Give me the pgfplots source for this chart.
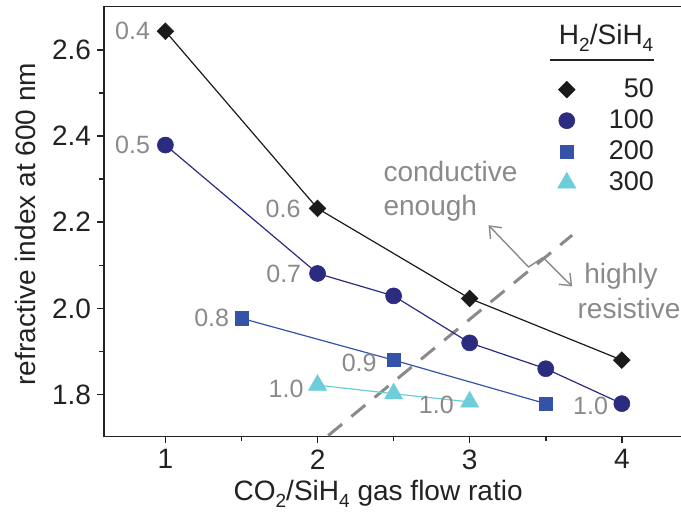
\documentclass[border=0pt]{standalone}
\usepackage{pgfplots}
\pgfplotsset{compat=1.18}
\usepackage{fontspec}
\setmainfont{Liberation Sans}
\usetikzlibrary{arrows.meta,calc}
\definecolor{cblack}{HTML}{1A1A1A}
\definecolor{cnavy}{HTML}{2B2C80}
\definecolor{cblue}{HTML}{3453A8}
\definecolor{ccyan}{HTML}{6DCDD8}
\definecolor{cgray}{HTML}{8A8A8A}
\definecolor{ctext}{HTML}{222222}
\newcommand{\sub}[1]{\raisebox{-0.45ex}{\fontsize{9.5}{10}\selectfont #1}}
\begin{document}
\begin{tikzpicture}
\begin{axis}[
  scale only axis, width=288.65pt, height=214.65pt,
  xmin=0.595, xmax=4.393, ymin=1.703, ymax=2.7,
  axis line style={line width=0.75pt, ctext},
  tick align=outside, xtick pos=bottom, ytick pos=left,
  xtick={1,2,3,4}, ytick={1.8,2.0,2.2,2.4,2.6},
  minor x tick num=1, minor y tick num=1,
  major tick length=3.2pt, minor tick length=2.4pt,
  every tick/.style={line width=0.75pt, ctext},
  /pgf/number format/assume math mode=true,
  ticklabel style={font=\fontsize{14}{16}\selectfont, text=ctext},
  yticklabel style={/pgf/number format/fixed, /pgf/number format/fixed zerofill, /pgf/number format/precision=1, inner sep=0pt, xshift=-3pt},
  xticklabel style={inner sep=0pt, yshift=-3.2pt},
  xlabel={CO\sub{2}/SiH\sub{4} gas flow ratio},
  ylabel={refractive index at 600 nm},
  label style={font=\fontsize{14}{16}\selectfont, text=ctext},
  xlabel style={at={(rel axis cs:0.4748,-0.149)}, anchor=base, inner sep=0pt},
  ylabel style={at={(rel axis cs:-0.136,0.494)}, anchor=center, inner sep=0pt},
  legend style={at={(axis cs:4.211,2.533)}, anchor=north east, draw=none, fill=none,
    inner sep=0pt, outer sep=0pt, row sep=4.6pt, column sep=0pt,
    font=\fontsize{13.5}{15}\selectfont, text=ctext, nodes={inner sep=0pt}},
  legend cell align=right,
  legend image code/.code={\path[draw=none,fill=none] (0pt,-4pt) rectangle (31pt,4pt); \draw[#1] plot[only marks] coordinates {(10pt,0pt)};},
]
\addplot[cgray, line width=1.5pt, dash pattern=on 9pt off 6pt, forget plot] coordinates {(2.07,1.705) (3.674,2.17)};
\addplot[cblack, line width=0.6pt, mark=square*, mark size=2.95pt, mark options={rotate=45, fill=cblack, draw=cblack, line width=0.3pt}]
  coordinates {(1,2.643) (2,2.232) (3,2.023) (4,1.880)};
\addlegendentry{50}
\addplot[cnavy, line width=0.6pt, mark=*, mark size=4pt, mark options={fill=cnavy, draw=cnavy, line width=0.3pt}]
  coordinates {(1,2.379) (2,2.081) (2.5,2.029) (3,1.920) (3.5,1.860) (4,1.779)};
\addlegendentry{100}
\addplot[cblue, line width=0.6pt, mark=square*, mark size=3.3pt, mark options={fill=cblue, draw=cblue, line width=0.3pt}]
  coordinates {(1.5,1.977) (2.5,1.880) (3.5,1.779)};
\addlegendentry{200}
\addplot[ccyan, line width=0.6pt, mark=triangle*, mark size=5.2pt, mark options={fill=ccyan, draw=ccyan, line width=0.3pt}]
  coordinates {(2,1.822) (2.5,1.802) (3,1.783)};
\addlegendentry{300}
% value labels
\begin{scope}[every node/.style={anchor=east, inner sep=0pt, text=cgray, font=\fontsize{12.5}{14}\selectfont}]
\node[xshift=-7.5pt] at (axis cs:1,2.643) {0.4};
\node[xshift=-7.5pt] at (axis cs:1,2.379) {0.5};
\node[xshift=-8.3pt] at (axis cs:2,2.232) {0.6};
\node[xshift=-8pt] at (axis cs:2,2.081) {0.7};
\node[xshift=-6pt] at (axis cs:1.5,1.977) {0.8};
\node[xshift=-8.3pt, yshift=-1.5pt] at (axis cs:2.5,1.880) {0.9};
\node[xshift=-6.8pt, yshift=-2pt] at (axis cs:2,1.822) {1.0};
\node[xshift=-7.8pt, yshift=-1.5pt] at (axis cs:3,1.783) {1.0};
\node[xshift=-6.7pt, yshift=-1pt] at (axis cs:4,1.779) {1.0};
\end{scope}
% region annotations
\begin{scope}[every node/.style={anchor=base west, inner sep=0pt, text=cgray, font=\fontsize{14}{16}\selectfont}]
\node at (axis cs:2.431,2.294) {conductive};
\node at (axis cs:2.431,2.2165) {enough};
\node at (axis cs:3.751,2.058) {highly};
\node at (axis cs:3.707,1.9765) {resistive};
\end{scope}
\draw[cgray, line width=0.7pt, {Straight Barb[length=5pt,width=8pt]}-{Straight Barb[length=5pt,width=8pt]}]
  (axis cs:3.124,2.193) -- (axis cs:3.387,2.096) -- (axis cs:3.482,2.118) -- (axis cs:3.674,2.051);
% legend title
\node[anchor=base, inner sep=0pt, text=ctext, font=\fontsize{14}{16}\selectfont] at (axis cs:3.897,2.6114) {H\sub{2}/SiH\sub{4}};
\draw[ctext, line width=0.75pt] (axis cs:3.531,2.5765) -- (axis cs:4.211,2.5765);
\end{axis}
\pgfresetboundingbox
\path[use as bounding box] ($(current axis.south west)+(-51.85pt,-40pt)$) rectangle ($(current axis.north east)+(-0.3pt,3.35pt)$);
\end{tikzpicture}
\end{document}
